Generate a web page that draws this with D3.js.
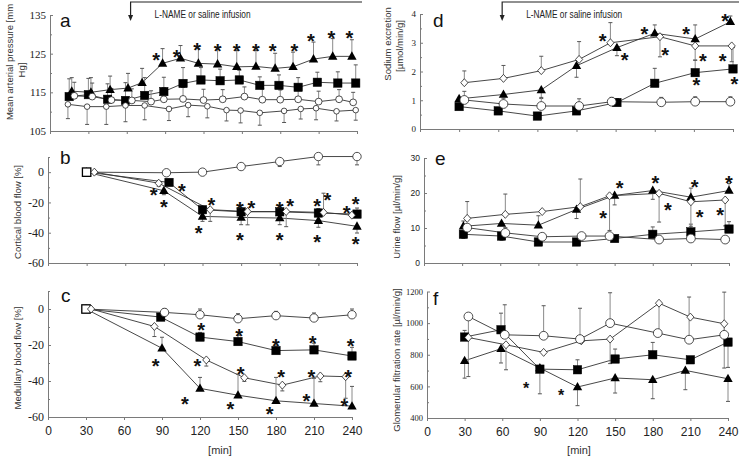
<!DOCTYPE html>
<html><head><meta charset="utf-8">
<script src="https://cdn.jsdelivr.net/npm/d3@7"></script>
<style>body{margin:0;background:#fff;}svg{display:block;}</style>
</head><body>
<svg id="chart" width="739" height="456"></svg>
<script>
// ---------- shared ----------
const xTicks = [0, 30, 60, 90, 120, 150, 180, 210, 240];
const infusionLabel = "L-NAME or saline infusion";
const infusionStart = 63;

// ---------- panel a : mean arterial pressure ----------
const aYTicks = [105, 115, 125, 135];
const aTriT = [17,32,47,61,72,88,102,116,131,146,161,176,190,206,221,236];
const aTriV = [115.3,115.0,115.7,116.1,117.5,122.5,123.8,122.5,122.3,121.6,121.7,121.2,121.6,123.6,124.3,124.3];
const aTriE = [3.5,3.8,3.5,3.8,3.7,3.8,3.3,3.8,3.8,4.2,4.1,3.9,3.8,4.4,4.6,4.3];
const aSqT = [15,30,45,59,74,89,104,118,133,148,164,179,194,209,225,239];
const aSqV = [113.9,114.4,113.2,112.9,114.2,115.2,117.3,118.2,118.0,118.2,116.8,116.8,116.3,117.6,117.4,117.4];
const aSqE = [4.6,4.2,4.0,4.6,4.6,3.7,4.1,3.2,3.0,2.5,2.2,2.7,2.5,2.6,2.9,4.7];
const aCircT = [19,33,48,64,79,89,104,120,135,152,166,180,194,210,226,237];
const aCircV = [114.1,113.9,113.0,112.9,112.6,113.2,113.3,113.0,113.2,113.9,113.1,113.1,113.2,112.6,113.2,112.4];
const aCircE = [3.5,3.5,3.0,3.0,2.8,3.0,3.0,2.8,2.5,2.5,2.8,2.5,2.5,2.7,2.5,2.6];
const aSmallT = [14,29,44,59,74,93,108,123,138,149,164,183,196,208,224,239];
const aSmallV = [111.9,111.3,111.3,111.6,111.6,110.7,111.7,111.4,110.4,110.3,109.7,110.2,110.7,110.9,110.1,110.4];
const aSmallE = [-3.7,-4.6,-4.6,-4.2,-3.7,-3.0,-3.0,-3.0,-2.8,-3.2,-3.2,-3.0,-2.6,-3.0,-2.5,-2.6];
const aStarT = [83,99,115,131,146,161,174,191,204,220,234];
const aStarV = [124.5,125.1,127.1,126.8,126.8,126.8,126.8,126.8,129.3,130.2,130.2];

// ---------- panel b : cortical blood flow ----------
const bYTicks = [-60, -40, -20, 0];
const bCircT = [30,92,120,150,180,210,240];
const bCircV = [0,-0.4,0,3.7,7.0,10.3,10.3];
const bCircE = [0,-1.2,-1.5,-2.0,-3.3,-5.5,-5.5];
const bDiaT = [36,86,126,155,185,214,236];
const bDiaV = [0,-7.3,-24.8,-26.0,-26.0,-26.6,-28.4];
const bDiaE = [0,-2.0,-7.7,-8.8,-10.0,12.7,0];
const bSqT = [30,94,120,150,180,210,240];
const bSqV = [0,-6.8,-24.8,-26.2,-26.2,-27.0,-27.7];
const bSqE = [0,0,0,0,2.5,3.0,4.0];
const bTriT = [30,90,120,150,180,210,240];
const bTriV = [0,-12.3,-29.2,-29.9,-30.3,-32.0,-35.8];
const bTriE = [0,-2.6,-3.3,-4.8,-4.4,-4.4,-4.4];
const bStarT = [82,90,104,117,127,149,158,149,180,188,180,209,217,209,232,239,239];
const bStarV = [-12.7,-20.4,-9.5,-37.6,-19.3,-21.5,-20.9,-42,-21.5,-20,-42,-20,-16,-43.5,-24.5,-18.5,-45];

// ---------- panel c : medullary blood flow ----------
const cYTicks = [-60, -40, -20, 0];
const cCircT = [30,92,120,150,180,210,240];
const cCircV = [0,-1.9,-3.2,-5.4,-3.7,-5.0,-3.2];
const cCircE = [0,2.0,3.2,2.8,2.4,2.8,3.2];
const cDiaT = [34,84,125,155,185,215,235];
const cDiaV = [0,-9.7,-28.3,-38.2,-42.3,-37.2,-37.6];
const cDiaE = [0,-5.6,-3.4,-2.0,-3.2,-3.2,-12];
const cSqT = [30,89,120,150,180,210,240];
const cSqV = [0,-4.5,-15.6,-18.1,-23.1,-22.7,-26.1];
const cSqE = [0,0,2.6,3.5,2.6,3.7,4.8];
const cTriT = [30,90,120,150,180,210,240];
const cTriV = [0,-21.8,-44.1,-47.9,-51.0,-52.5,-54.0];
const cTriE = [0,6.1,6.1,11.7,13,14,11];
const cStarT = [121,151,180,209,239,85,118,152,184,208,237,108,144,175,204,234];
const cStarV = [-9.3,-12.5,-18.1,-16.8,-18.1,-29.2,-29.2,-33.9,-35.8,-35.8,-35.8,-50.3,-53.4,-56.2,-48.8,-51.6];

// ---------- panel d : sodium excretion ----------
const dYTicks = [0, 1, 2, 3, 4];
const dDiaT = [34,64,93,122,146,184,211,239];
const dDiaV = [1.61,1.76,2.03,2.42,3.0,3.21,2.89,2.89];
const dDiaE = [0.41,0.45,0.5,0.62,0.7,-0.7,-0.5,-0.55];
const dCircT = [34,64,93,122,147,185,211,238];
const dCircV = [1.01,0.87,0.80,0.80,0.95,0.93,0.95,0.95];
const dCircE = [0.3,0.2,0.3,0.25,0.15,0.17,0.17,0.17];
const dSqT = [30,60,90,120,151,180,211,240];
const dSqV = [0.78,0.63,0.45,0.63,0.92,1.59,1.96,2.09];
const dSqE = [0.23,0,0,0,0.14,0.52,0.44,0.74];
const dTriT = [30,64,93,120,151,180,211,238];
const dTriV = [1.05,1.2,1.36,2.2,2.83,3.33,3.13,3.73];
const dTriE = [0,0,-0.3,-0.4,-0.28,0.29,0.49,0.2];
const dStarT = [140,157,172,188,204,217,232,234,212,241];
const dStarV = [3.21,2.54,3.44,2.71,3.44,2.52,2.52,3.91,1.68,1.70];

// ---------- panel e : urine flow ----------
const eYTicks = [0, 10, 20, 30];
const eDiaT = [34,64,93,123,146,185,210,237];
const eDiaV = [12.75,13.9,14.7,16.1,19.2,19.9,17.5,18.0];
const eDiaE = [4.8,5.8,0,7.9,-9.9,-8.2,-7.0,-7.4];
const eCircT = [34,64,93,124,146,185,210,237];
const eCircV = [10.1,8.6,7.5,7.7,7.7,6.7,7.0,6.7];
const eCircE = [0,1.5,0,0,0,0,0,0];
const eSqT = [31,61,90,120,150,180,210,240];
const eSqV = [8.2,7.7,6.0,6.0,7.0,8.2,8.9,9.7];
const eSqE = [-1.2,-1.2,0,0,-0.8,2.1,2.2,2.1];
const eTriT = [31,61,90,120,150,180,210,240];
const eTriV = [10.5,11.3,10.8,15.3,19.3,20.7,18.8,20.7];
const eTriE = [1.5,0,2.7,-2.6,-2.7,-2.5,2.6,2.0];
const eStarT = [141,154,182,192,213,217,233,240];
const eStarV = [14,22.5,24,16.3,22.8,14.2,14.9,24];

// ---------- panel f : glomerular filtration rate ----------
const fYTicks = [400, 600, 800, 1000, 1200];
const fCircT = [33,62,93,122,146,184,209,237];
const fCircV = [1042,926,920,899,1000,937,895,926];
const fCircE = [-380,190,190,195,192,0,270,270];
const fDiaT = [33,63,93,123,146,185,210,237];
const fDiaV = [909,863,815,888,899,1126,1038,996];
const fDiaE = [0,-158,0,0,-155,-206,0,-280];
const fSqT = [30,59,90,120,150,180,210,240];
const fSqV = [912,958,709,705,773,800,768,880];
const fSqE = [42,105,-156,63,63,78,0,-160];
const fTriT = [30,59,90,120,150,180,206,240];
const fTriV = [762,838,716,596,653,642,701,648];
const fTriE = [-110,-90,0,-118,-95,-120,-122,-143];
const fStarT = [79,107];
const fStarV = [610,562];

// ---------- drawing ----------
const SANS = "'Liberation Sans', Arial, sans-serif";
const SERIF = "'Liberation Serif', 'Times New Roman', serif";
const svg = d3.select('#chart');

function ser(shape, t, v, e, opts) { return Object.assign({shape, t, v, e}, opts || {}); }

const panels = [
  { xr:[50,357], yd:[105,135], yr:[131,15], major:aYTicks, minor:[110,120,130], tf:SERIF, ts:11,
    showX:false, label:'a', lp:[60,27],
    titles:[{text:'Mean arterial pressure [mm', x:9, y:62},{text:'Hg]', x:21, y:70}],
    series:[ser('tri',aTriT,aTriV,aTriE), ser('sq',aSqT,aSqV,aSqE),
            ser('circ',aCircT,aCircV,aCircE,{r:3.4}), ser('circ',aSmallT,aSmallV,aSmallE,{r:2.8})],
    stars:[aStarT,aStarV], starFs:20 },
  { xr:[48,357], yd:[-60,10], yr:[263,157], major:bYTicks, minor:[-50,-30,-10,10], tf:SERIF, ts:12,
    showX:false, label:'b', lp:[60,164],
    titles:[{text:'Cortical blood flow [%]', x:17, y:212}],
    series:[ser('tri',bTriT,bTriV,bTriE), ser('sq',bSqT,bSqV,bSqE,{open0:true}),
            ser('dia',bDiaT,bDiaV,bDiaE), ser('circ',bCircT,bCircV,bCircE,{r:4.2,skip0:true})],
    stars:[bStarT,bStarV], starFs:20 },
  { xr:[48,352], yd:[-60,10], yr:[417,291], major:cYTicks, minor:[-50,-30,-10,10], tf:SERIF, ts:12,
    showX:true, minX:220, label:'c', lp:[61,302],
    titles:[{text:'Medullary blood flow [%]', x:17, y:358}],
    series:[ser('tri',cTriT,cTriV,cTriE), ser('sq',cSqT,cSqV,cSqE,{open0:true}),
            ser('dia',cDiaT,cDiaV,cDiaE), ser('circ',cCircT,cCircV,cCircE,{r:4.2,skip0:true})],
    stars:[cStarT,cStarV], starFs:20 },
  { xr:[420,733], yd:[0,4], yr:[129,14], major:dYTicks, minor:[0.5,1.5,2.5,3.5], tf:SERIF, ts:9,
    showX:false, label:'d', lp:[433,27],
    titles:[{text:'Sodium excretion', x:387, y:44},{text:'[\u00b5mol/min/g]', x:399, y:46}],
    series:[ser('tri',dTriT,dTriV,dTriE), ser('sq',dSqT,dSqV,dSqE),
            ser('dia',dDiaT,dDiaV,dDiaE), ser('circ',dCircT,dCircV,dCircE,{r:4.4})],
    stars:[dStarT,dStarV], starFs:20 },
  { xr:[424,729], yd:[0,30], yr:[263,158], major:eYTicks, minor:[5,15,25], tf:SANS, ts:8.5,
    showX:false, label:'e', lp:[435,165],
    titles:[{text:'Urine flow [\u00b5l/min/g]', x:396, y:217}],
    series:[ser('tri',eTriT,eTriV,eTriE), ser('sq',eSqT,eSqV,eSqE),
            ser('dia',eDiaT,eDiaV,eDiaE), ser('circ',eCircT,eCircV,eCircE,{r:4.4})],
    stars:[eStarT,eStarV], starFs:20 },
  { xr:[427,728], yd:[400,1200], yr:[418,291.5], major:fYTicks, minor:[500,700,900,1100], tf:SERIF, ts:8.5,
    showX:true, minX:579, label:'f', lp:[433,305],
    titles:[{text:'Glomerular filtration rate [\u00b5l/min/g]', x:396, y:360}],
    series:[ser('tri',fTriT,fTriV,fTriE), ser('sq',fSqT,fSqV,fSqE),
            ser('dia',fDiaT,fDiaV,fDiaE), ser('circ',fCircT,fCircV,fCircE,{r:4.4})],
    stars:[fStarT,fStarV], starFs:16 }
];
panels[0].arrow = {end:362};
panels[3].arrow = {end:739};

const AX = '#7a7a7a';

function marker(g, s, px, py, i) {
  if (s.shape === 'tri') {
    g.append('path').attr('d', `M${px},${py-5}L${px+4.7},${py+3.3}L${px-4.7},${py+3.3}Z`).attr('fill','#000');
  } else if (s.shape === 'sq') {
    const open = s.open0 && i === 0;
    g.append('rect').attr('x',px-4.2).attr('y',py-4.2).attr('width',8.4).attr('height',8.4)
      .attr('fill', open ? '#fff' : '#000').attr('stroke','#000').attr('stroke-width', open ? 1.3 : 0.5);
  } else if (s.shape === 'dia') {
    g.append('path').attr('d', `M${px},${py-4}L${px+3.6},${py}L${px},${py+4}L${px-3.6},${py}Z`)
      .attr('fill','#fff').attr('stroke','#222').attr('stroke-width',0.8);
  } else {
    if (s.skip0 && i === 0) return;
    g.append('circle').attr('cx',px).attr('cy',py).attr('r',s.r || 4.2)
      .attr('fill','#fff').attr('stroke','#222').attr('stroke-width',0.8);
  }
}

panels.forEach(p => {
  const x = d3.scaleLinear().domain([0,240]).range(p.xr);
  const y = d3.scaleLinear().domain(p.yd).range(p.yr);
  const g = svg.append('g');

  // x axis
  const xa = d3.axisBottom(x).tickValues(xTicks).tickSizeInner(3).tickSizeOuter(0).tickPadding(6);
  xa.tickFormat(p.showX ? (d => String(d)) : '');
  const gx = g.append('g').attr('transform',`translate(0,${p.yr[0]})`).call(xa);
  gx.attr('font-family', SANS).attr('font-size', 12);
  gx.selectAll('path,line').attr('stroke', AX);
  gx.selectAll('text').attr('fill','#222');

  // y axis (ticks point inward)
  const ya = d3.axisLeft(y).tickValues(p.major).tickSizeInner(-3).tickSizeOuter(0).tickPadding(4).tickFormat(d => String(d));
  const gy = g.append('g').attr('transform',`translate(${p.xr[0]},0)`).call(ya);
  gy.attr('font-family', p.tf).attr('font-size', p.ts);
  gy.selectAll('path,line').attr('stroke', AX);
  gy.selectAll('text').attr('fill','#222');
  const gm = g.append('g').attr('transform',`translate(${p.xr[0]},0)`)
    .call(d3.axisLeft(y).tickValues(p.minor).tickSize(-2).tickFormat(''));
  gm.select('.domain').remove();
  gm.selectAll('line').attr('stroke', AX);

  // titles
  p.titles.forEach(tt => {
    g.append('text').attr('transform',`translate(${tt.x},${tt.y}) rotate(-90)`)
      .attr('text-anchor','middle').attr('dominant-baseline','central')
      .attr('font-family', SANS).attr('font-size', 9.5).attr('fill','#333').text(tt.text);
  });
  // panel letter
  g.append('text').attr('x',p.lp[0]).attr('y',p.lp[1]).attr('font-family',SANS)
    .attr('font-size',19).attr('fill','#111').text(p.label);

  // lines
  const line = d3.line().x(d => x(d[0])).y(d => y(d[1]));
  p.series.forEach(s => {
    const pts = s.t.map((t,i) => [t, s.v[i]]);
    g.append('path').attr('d', line(pts)).attr('fill','none').attr('stroke','#333').attr('stroke-width',0.9);
  });
  // error bars
  p.series.forEach(s => {
    s.t.forEach((t,i) => {
      const e = s.e[i];
      if (!e) return;
      const px = x(t), y0 = y(s.v[i]), y1 = y(s.v[i] + e);
      g.append('line').attr('x1',px).attr('x2',px).attr('y1',y0).attr('y2',y1).attr('stroke','#8a8a8a').attr('stroke-width',1);
      g.append('line').attr('x1',px-2).attr('x2',px+2).attr('y1',y1).attr('y2',y1).attr('stroke','#555').attr('stroke-width',1);
    });
  });
  // markers
  p.series.forEach(s => {
    s.t.forEach((t,i) => marker(g, s, x(t), y(s.v[i]), i));
  });
  // significance asterisks
  const [st, sv] = p.stars;
  st.forEach((t,i) => {
    g.append('text').attr('x', x(t)).attr('y', y(sv[i]) + p.starFs*0.55)
      .attr('text-anchor','middle').attr('font-family',SANS).attr('font-weight','bold')
      .attr('font-size',p.starFs).attr('fill','#111').text('*');
  });
  // infusion arrow
  if (p.arrow) {
    const ax = x(infusionStart);
    g.append('path').attr('d',`M${p.arrow.end},2H${ax}V16`).attr('fill','none').attr('stroke','#222').attr('stroke-width',1.2);
    g.append('path').attr('d',`M${ax-2.5},15L${ax+2.5},15L${ax},21Z`).attr('fill','#222');
    g.append('text').attr('x', ax + 24).attr('y', 18).attr('font-family',SANS).attr('font-size',10)
      .attr('textLength',96).attr('lengthAdjust','spacingAndGlyphs').attr('fill','#222').text(infusionLabel);
  }
  if (p.showX) {
    g.append('text').attr('x', p.minX).attr('y', 454).attr('text-anchor','middle')
      .attr('font-family',SANS).attr('font-size',11).attr('fill','#333').text('[min]');
  }
});
</script>
</body></html>
